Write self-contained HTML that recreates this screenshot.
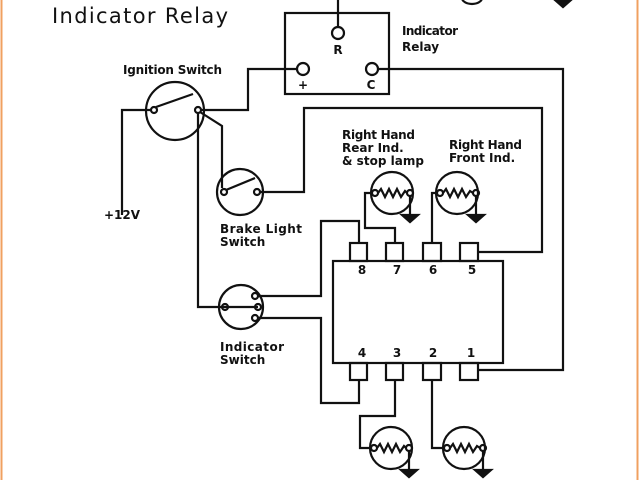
<!DOCTYPE html>
<html><head><meta charset="utf-8"><style>
html,body{margin:0;padding:0;background:#fff;}
svg{display:block;}
text{font-family:"DejaVu Sans","Liberation Sans",sans-serif;font-weight:bold;fill:#111;}
</style></head><body>
<svg width="640" height="480" viewBox="0 0 640 480" xmlns="http://www.w3.org/2000/svg">
<rect x="0" y="0" width="640" height="480" fill="#fff"/>
<line x1="1.5" y1="0" x2="1.5" y2="480" stroke="#f0a060" stroke-width="2"/>
<line x1="637.5" y1="0" x2="637.5" y2="480" stroke="#f0a060" stroke-width="2"/>
<g fill="none" stroke="#111" stroke-width="2.2">
<path d="M462 -2 A10 6 0 0 0 482 -2"/>
<rect x="285" y="13" width="104" height="81"/>
<line x1="338" y1="0" x2="338" y2="27"/>
<circle cx="338" cy="33" r="6"/>
<circle cx="303" cy="69" r="6"/>
<circle cx="372" cy="69" r="6"/>
<polyline points="297,69 248,69 248,110 200,110"/>
<polyline points="378,69 563,69 563,370 478,370"/>
<circle cx="175" cy="111" r="29"/>
<circle cx="154" cy="110" r="3"/>
<circle cx="198" cy="110" r="3"/>
<line x1="156" y1="107" x2="193" y2="94"/>
<polyline points="151,110 122,110 122,215"/>
<polyline points="198,113 198,307 225,307"/>
<polyline points="200,112 222,126 222,188"/>
<circle cx="240" cy="192" r="23"/>
<circle cx="224" cy="192" r="3"/>
<circle cx="257" cy="192" r="3"/>
<line x1="226" y1="190" x2="255" y2="178"/>
<polyline points="260,192 304,192 304,108 542,108 542,252 478,252"/>
<circle cx="241" cy="307" r="22"/>
<circle cx="225" cy="307" r="3"/>
<circle cx="255" cy="296" r="3"/>
<circle cx="258" cy="307" r="3"/>
<circle cx="255" cy="318" r="3"/>
<line x1="225" y1="307" x2="258" y2="307"/>
<polyline points="258,296 321,296 321,221 359,221 359,243"/>
<polyline points="258,318 321,318 321,403 359,403 359,380"/>
<rect x="333" y="261" width="170" height="102"/>
<rect x="350" y="243" width="17" height="18"/>
<rect x="386" y="243" width="17" height="18"/>
<rect x="423" y="243" width="18" height="18"/>
<rect x="460" y="243" width="18" height="18"/>
<rect x="350" y="363" width="17" height="17"/>
<rect x="386" y="363" width="17" height="17"/>
<rect x="423" y="363" width="18" height="17"/>
<rect x="460" y="363" width="18" height="17"/>
<polyline points="395,243 395,228 365,228 365,193 372,193"/>
<polyline points="432,243 432,193 437,193"/>
<polyline points="395,380 395,416 360,416 360,448 371,448"/>
<polyline points="432,380 432,448 445,448"/>
</g>
<g fill="none" stroke="#111" stroke-width="2.2">
<g transform="translate(392,193)">
<circle r="21"/><circle cx="-17" r="3"/><circle cx="18" r="3"/>
<polyline points="-14,0 -11,-4 -7,4 -3,-4 1,4 5,-4 9,4 13,-2 15,0"/>
<polyline points="18,3 18,28"/>
<polygon points="10,22 26,22 18,29" fill="#111"/>
</g>
<g transform="translate(457,193)">
<circle r="21"/><circle cx="-17" r="3"/><circle cx="19" r="3"/>
<polyline points="-14,0 -11,-4 -7,4 -3,-4 1,4 5,-4 9,4 13,-2 16,0"/>
<polyline points="19,3 19,28"/>
<polygon points="11,22 27,22 19,29" fill="#111"/>
</g>
<g transform="translate(391,448)">
<circle r="21"/><circle cx="-17" r="3"/><circle cx="18" r="3"/>
<polyline points="-14,0 -11,-4 -7,4 -3,-4 1,4 5,-4 9,4 13,-2 15,0"/>
<polyline points="18,3 18,28"/>
<polygon points="10,22 26,22 18,29" fill="#111"/>
</g>
<g transform="translate(464,448)">
<circle r="21"/><circle cx="-17" r="3"/><circle cx="19" r="3"/>
<polyline points="-14,0 -11,-4 -7,4 -3,-4 1,4 5,-4 9,4 13,-2 16,0"/>
<polyline points="19,3 19,28"/>
<polygon points="11,22 27,22 19,29" fill="#111"/>
</g>
<line x1="563" y1="0" x2="563" y2="2"/>
<polygon points="555,0 571,0 563,7" fill="#111"/>
</g>
<text x="52" y="23" font-size="21" style="font-weight:normal" textLength="176">Indicator Relay</text>
<g font-size="12">
<text x="402" y="35" textLength="56">Indicator</text>
<text x="402" y="51">Relay</text>
<text x="338" y="54" text-anchor="middle">R</text>
<text x="303" y="89" text-anchor="middle">+</text>
<text x="371" y="89" text-anchor="middle">C</text>
<text x="123" y="74" textLength="99">Ignition Switch</text>
<text x="104" y="219">+12V</text>
<text x="220" y="233" textLength="82">Brake Light</text>
<text x="220" y="246">Switch</text>
<text x="220" y="351" textLength="64">Indicator</text>
<text x="220" y="364">Switch</text>
<text x="342" y="139" textLength="73">Right Hand</text>
<text x="342" y="152">Rear Ind.</text>
<text x="342" y="165" textLength="82">&amp; stop lamp</text>
<text x="449" y="149" textLength="73">Right Hand</text>
<text x="449" y="162">Front Ind.</text>
</g>
<g font-size="12" text-anchor="middle">
<text x="362" y="274">8</text><text x="397" y="274">7</text><text x="433" y="274">6</text><text x="472" y="274">5</text>
<text x="362" y="357">4</text><text x="397" y="357">3</text><text x="433" y="357">2</text><text x="471" y="357">1</text>
</g>
</svg>
</body></html>
